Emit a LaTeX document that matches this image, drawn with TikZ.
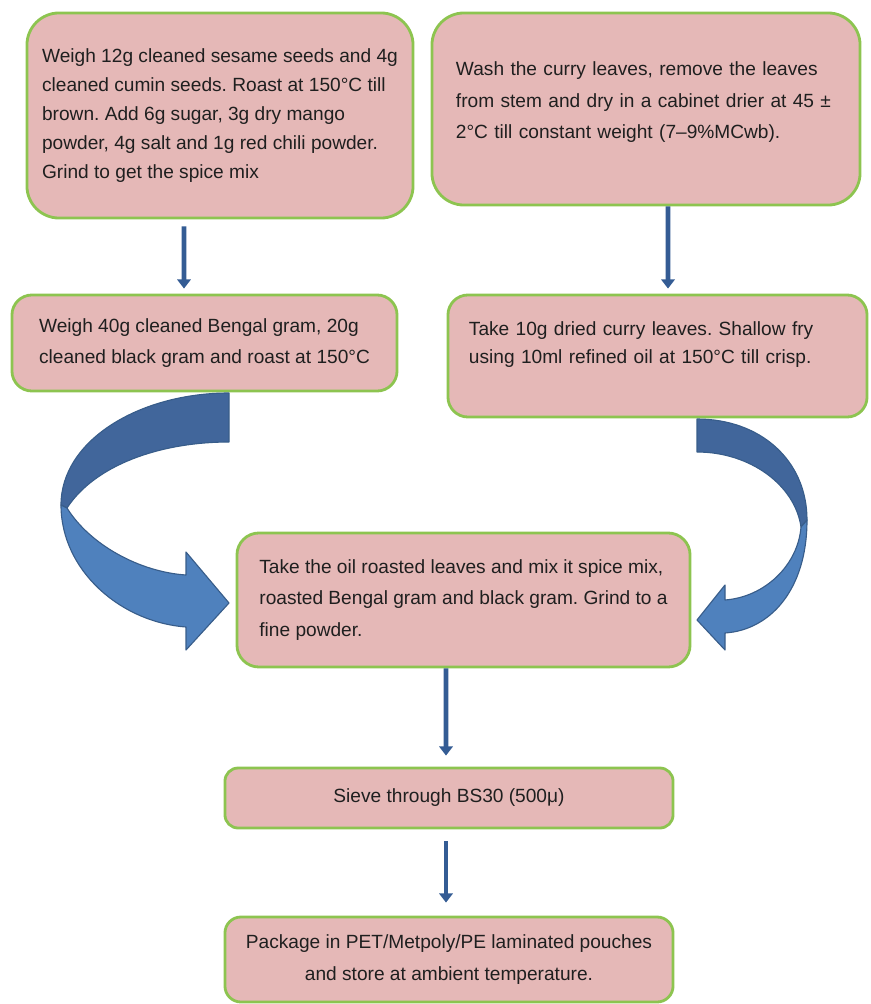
\documentclass[tikz,border=0pt]{standalone}
\usepackage{fontspec}
\setmainfont{Liberation Sans}
\usepackage{xcolor}
\usetikzlibrary{arrows.meta}
\frenchspacing

\definecolor{boxpink}{HTML}{E5B8B7}
\definecolor{boxgreen}{HTML}{8DC450}
\definecolor{shaftblue}{HTML}{345C94}
\definecolor{bendDark}{HTML}{41669B}
\definecolor{bendLight}{HTML}{4F81BD}
\definecolor{bendEdge}{HTML}{385D8A}

\begin{document}
\begin{tikzpicture}[x=0.025cm, y=-0.025cm]
\tikzstyle{stepbox} = [rectangle, rounded corners=0.5cm, draw=boxgreen, line width=2pt, fill=boxpink, text=black!88, font=\fontsize{13.6}{22.5}\selectfont, inner sep=0pt]
\tikzstyle{arrow} = [line width=3.5pt, shaftblue, -{Triangle[width=9.5pt,length=6.5pt]}]
\tikzstyle{bendarrow} = [draw=bendEdge, line width=0.8pt, line join=round]

\useasboundingbox (0,0) rectangle (870,1004);

% two starting columns
\node (spiceMix) [stepbox, align=left, minimum width=9.65cm, minimum height=5.125cm, rounded corners=0.8cm, font=\fontsize{13.6}{20.5}\selectfont] at (220,115.5) {Weigh 12g cleaned sesame seeds and 4g\\cleaned cumin seeds. Roast at 150°C till\\brown. Add 6g sugar, 3g dry mango\\powder, 4g salt and 1g red chili powder.\\Grind to get the spice mix};
\node (washLeaves) [stepbox, align=left, text width=9.5cm, text depth=58pt, minimum width=10.7cm, minimum height=4.8cm, rounded corners=0.8cm, font=\fontsize{13.6}{22.7}\selectfont] at (646,109) {Wash the curry leaves, remove the leaves\\from stem and dry in a cabinet drier at 45 ±\\2°C till constant weight (7–9\%MCwb).};
\node (roastGram) [stepbox, align=left, minimum width=9.625cm, minimum height=2.4cm] at (204.5,343) {Weigh 40g cleaned Bengal gram, 20g\\cleaned black gram and roast at 150°C};
\node (fryLeaves) [stepbox, align=left, text width=9.425cm, text depth=38.5pt, minimum width=10.475cm, minimum height=3.05cm, font=\fontsize{13.6}{20}\selectfont] at (657.5,356) {Take 10g dried curry leaves. Shallow fry\\using 10ml refined oil at 150°C till crisp.};

% joined steps
\node (mixGrind) [stepbox, align=left, minimum width=11.325cm, minimum height=3.35cm, rounded corners=0.55cm, font=\fontsize{13.6}{22.7}\selectfont] at (463.5,600) {Take the oil roasted leaves and mix it spice mix,\\roasted Bengal gram and black gram. Grind to a\\fine powder.};
\node (sieve) [stepbox, align=center, minimum width=11.2cm, minimum height=1.5cm, rounded corners=0.33cm] at (449,798) {Sieve through BS30 (500μ)};
\node (pack) [stepbox, align=center, minimum width=11.2cm, minimum height=2.125cm, rounded corners=0.4cm] at (449,959.5) {Package in PET/Metpoly/PE laminated pouches\\and store at ambient temperature.};

\draw [arrow] ([xshift=-0.9cm, yshift=-0.175cm]spiceMix.south) -- ([xshift=-0.5125cm, yshift=0.125cm]roastGram.north);
\draw [arrow] ([xshift=0.55cm]washLeaves.south) -- ([xshift=0.2625cm, yshift=0.125cm]fryLeaves.north);
\draw [arrow] ([xshift=-0.4375cm]mixGrind.south) -- ([xshift=-0.075cm, yshift=0.275cm]sieve.north);
\draw [arrow] ([xshift=-0.075cm, yshift=-0.3cm]sieve.south) -- ([xshift=-0.075cm, yshift=0.325cm]pack.north);

% left bent arrow
\filldraw [bendarrow, fill=bendDark] (229,393) .. controls (140,393) and (61,440) .. (61,505) -- (67,508) .. controls (95,465) and (160,442) .. (229,442) -- cycle;
\filldraw [bendarrow, fill=bendLight] (61,505) .. controls (61,570) and (120,622) .. (186,627) -- (186,650) -- (229,603) -- (186,552) -- (186,575) .. controls (140,572) and (90,545) .. (67,508) -- cycle;

% right bent arrow
\filldraw [bendarrow, fill=bendDark] (697,419) .. controls (760,419) and (807,460) .. (807,520) -- (801,527) .. controls (795,485) and (750,452) .. (697,452) -- cycle;
\filldraw [bendarrow, fill=bendLight] (807,520) .. controls (807,590) and (770,630) .. (725,633) -- (725,650) -- (697,620) -- (725,585) -- (725,600) .. controls (765,597) and (798,565) .. (801,527) -- cycle;

\end{tikzpicture}
\end{document}
